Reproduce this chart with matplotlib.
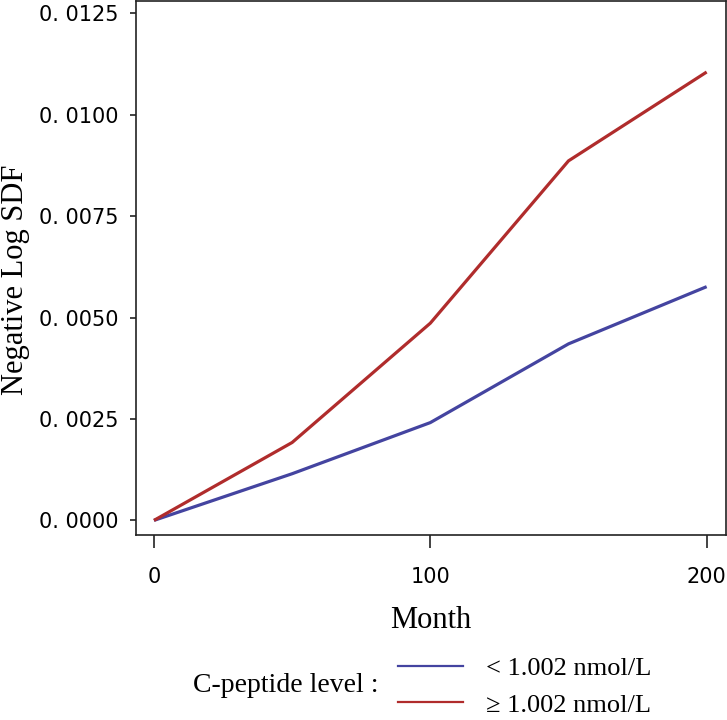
import numpy as np
import matplotlib
matplotlib.use("Agg")
import matplotlib.pyplot as plt
from matplotlib.lines import Line2D

# data
months = [0, 50, 100, 150, 200]
low_cpep = [0.0, 0.00115, 0.00241, 0.00435, 0.00576]
high_cpep = [0.0, 0.00192, 0.00486, 0.00886, 0.01105]
series_labels = ["< 1.002 nmol/L", "\u2265 1.002 nmol/L"]
series_colors = ["#4444A0", "#B02C2C"]

xticks = [0, 100, 200]
yticks = [0.0, 0.0025, 0.005, 0.0075, 0.01, 0.0125]
ytick_labels = [f"{v:.4f}".replace(".", ". ") for v in yticks]

serif = "Liberation Serif"
sans = "DejaVu Sans"

fig = plt.figure(figsize=(7.27, 7.2), dpi=100)
ax = fig.add_axes([136 / 727, 1 - 535 / 720, 590 / 727, 534 / 720])

ax.plot(months, low_cpep, color=series_colors[0], lw=2.3, solid_capstyle="butt")
ax.plot(months, high_cpep, color=series_colors[1], lw=2.3, solid_capstyle="butt")

ax.set_xlim(-6.5, 207)
ax.set_ylim(-0.00036, 0.0128)

ax.set_xticks(xticks)
ax.set_xticklabels([str(t) for t in xticks], fontfamily=sans, fontsize=15)
ax.set_yticks(yticks)
ax.set_yticklabels(ytick_labels, fontfamily=sans, fontsize=15)

for s in ax.spines.values():
    s.set_linewidth(1.2)
    s.set_color("#222222")
ax.tick_params(axis="y", length=4.5, width=1.2, color="#222222", pad=8)
ax.tick_params(axis="x", length=9, width=1.2, color="#222222", pad=14)

ax.set_xlabel("Month", fontfamily=serif, fontsize=22, va="center")
ax.xaxis.set_label_coords(0.5, -(621 - 535) / 534)
ax.set_ylabel("Negative Log SDF", fontfamily=serif, fontsize=22, va="center")
ax.yaxis.set_label_coords((15 - 136) / 590, 0.478)

# legend below the plot
fig.text(286 / 727, 1 - 686 / 720, "C-peptide level :", fontfamily=serif,
         fontsize=20, ha="center", va="center")
handles = [Line2D([], [], color=c, lw=1.6) for c in series_colors]
ax.legend(handles, series_labels, loc="center left",
          bbox_to_anchor=(398 / 727, 1 - 686.5 / 720), bbox_transform=fig.transFigure,
          frameon=False, borderpad=0, borderaxespad=0, handlelength=2.45,
          handletextpad=0.9, labelspacing=0.5,
          prop={"family": serif, "size": 19})

fig.savefig("out.png", dpi=100)
